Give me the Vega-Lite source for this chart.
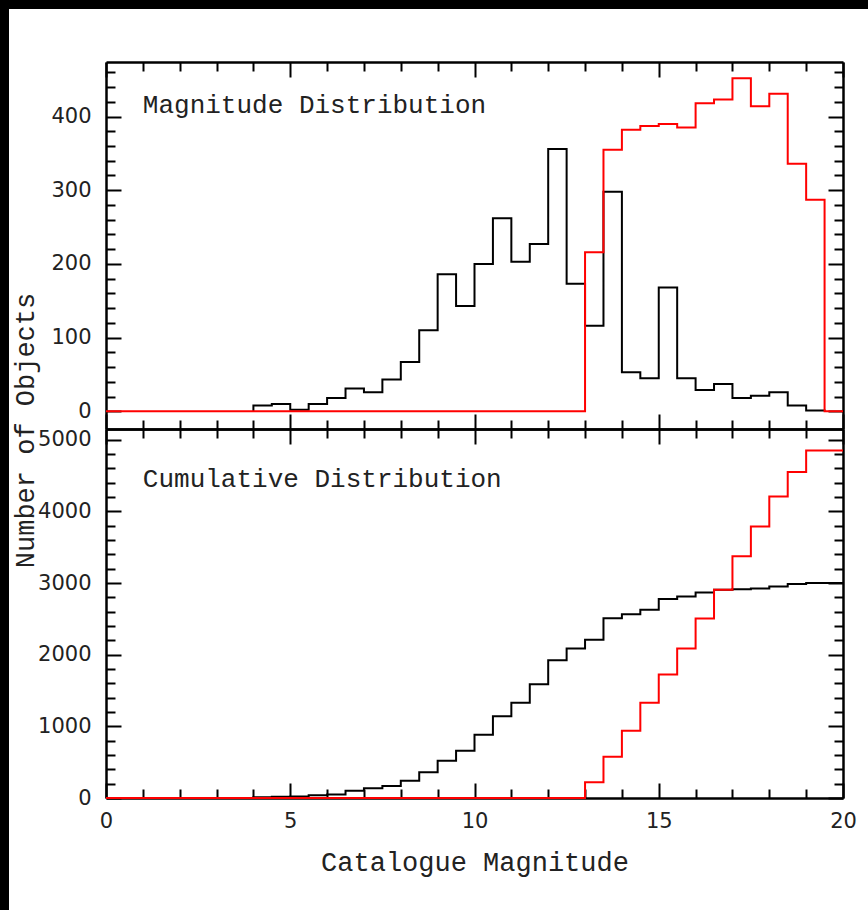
{
  "$schema": "https://vega.github.io/schema/vega-lite/v6.json",
  "width": 859,
  "height": 901,
  "autosize": {"type": "none"},
  "padding": {"left": 9, "top": 9, "right": 0, "bottom": 0},
  "background": "#000000",
  "config": {
    "view": {"fill": "#ffffff", "stroke": null},
    "axis": {
      "grid": false,
      "domainColor": "#000000",
      "domainWidth": 2.5,
      "tickColor": "#000000",
      "tickWidth": 2,
      "labelFont": "DejaVu Sans",
      "labelFontSize": 21,
      "labelColor": "#222222",
      "labelFlush": false,
      "labelOverlap": false,
      "titleFont": "Liberation Mono",
      "titleFontSize": 27,
      "titleFontWeight": "normal",
      "titleColor": "#222222"
    },
    "line": {"strokeWidth": 2, "interpolate": "step-after"}
  },
  "datasets": {
    "hist_black": [
      {"i": 0, "mag": 4.0, "n": 0}, {"i": 1, "mag": 4.0, "n": 8}, {"i": 2, "mag": 4.5, "n": 10},
      {"i": 3, "mag": 5.0, "n": 2}, {"i": 4, "mag": 5.5, "n": 10}, {"i": 5, "mag": 6.0, "n": 18},
      {"i": 6, "mag": 6.5, "n": 31}, {"i": 7, "mag": 7.0, "n": 26}, {"i": 8, "mag": 7.5, "n": 43},
      {"i": 9, "mag": 8.0, "n": 67}, {"i": 10, "mag": 8.5, "n": 110}, {"i": 11, "mag": 9.0, "n": 186},
      {"i": 12, "mag": 9.5, "n": 143}, {"i": 13, "mag": 10.0, "n": 200}, {"i": 14, "mag": 10.5, "n": 262},
      {"i": 15, "mag": 11.0, "n": 203}, {"i": 16, "mag": 11.5, "n": 227}, {"i": 17, "mag": 12.0, "n": 356},
      {"i": 18, "mag": 12.5, "n": 173}, {"i": 19, "mag": 13.0, "n": 116}, {"i": 20, "mag": 13.5, "n": 298},
      {"i": 21, "mag": 14.0, "n": 53}, {"i": 22, "mag": 14.5, "n": 45}, {"i": 23, "mag": 15.0, "n": 168},
      {"i": 24, "mag": 15.5, "n": 45}, {"i": 25, "mag": 16.0, "n": 29}, {"i": 26, "mag": 16.5, "n": 37},
      {"i": 27, "mag": 17.0, "n": 18}, {"i": 28, "mag": 17.5, "n": 21}, {"i": 29, "mag": 18.0, "n": 26},
      {"i": 30, "mag": 18.5, "n": 8}, {"i": 31, "mag": 19.0, "n": 1}, {"i": 32, "mag": 19.5, "n": 0}
    ],
    "hist_red": [
      {"i": 0, "mag": 0.0, "n": 0}, {"i": 1, "mag": 13.0, "n": 216}, {"i": 2, "mag": 13.5, "n": 355},
      {"i": 3, "mag": 14.0, "n": 382}, {"i": 4, "mag": 14.5, "n": 387}, {"i": 5, "mag": 15.0, "n": 390},
      {"i": 6, "mag": 15.5, "n": 385}, {"i": 7, "mag": 16.0, "n": 418}, {"i": 8, "mag": 16.5, "n": 423},
      {"i": 9, "mag": 17.0, "n": 452}, {"i": 10, "mag": 17.5, "n": 414}, {"i": 11, "mag": 18.0, "n": 431},
      {"i": 12, "mag": 18.5, "n": 336}, {"i": 13, "mag": 19.0, "n": 287}, {"i": 14, "mag": 19.5, "n": 0},
      {"i": 15, "mag": 20.0, "n": 0}
    ],
    "cum_black": [
      {"i": 0, "mag": 4.0, "n": 0}, {"i": 1, "mag": 4.0, "n": 10}, {"i": 2, "mag": 4.5, "n": 18},
      {"i": 3, "mag": 5.0, "n": 20}, {"i": 4, "mag": 5.5, "n": 40}, {"i": 5, "mag": 6.0, "n": 48},
      {"i": 6, "mag": 6.5, "n": 102}, {"i": 7, "mag": 7.0, "n": 135}, {"i": 8, "mag": 7.5, "n": 168},
      {"i": 9, "mag": 8.0, "n": 242}, {"i": 10, "mag": 8.5, "n": 359}, {"i": 11, "mag": 9.0, "n": 521},
      {"i": 12, "mag": 9.5, "n": 661}, {"i": 13, "mag": 10.0, "n": 884}, {"i": 14, "mag": 10.5, "n": 1141},
      {"i": 15, "mag": 11.0, "n": 1331}, {"i": 16, "mag": 11.5, "n": 1588}, {"i": 17, "mag": 12.0, "n": 1923},
      {"i": 18, "mag": 12.5, "n": 2085}, {"i": 19, "mag": 13.0, "n": 2207}, {"i": 20, "mag": 13.5, "n": 2510},
      {"i": 21, "mag": 14.0, "n": 2566}, {"i": 22, "mag": 14.5, "n": 2626}, {"i": 23, "mag": 15.0, "n": 2779},
      {"i": 24, "mag": 15.5, "n": 2811}, {"i": 25, "mag": 16.0, "n": 2867}, {"i": 26, "mag": 16.5, "n": 2905},
      {"i": 27, "mag": 17.0, "n": 2914}, {"i": 28, "mag": 17.5, "n": 2923}, {"i": 29, "mag": 18.0, "n": 2951},
      {"i": 30, "mag": 18.5, "n": 2985}, {"i": 31, "mag": 19.0, "n": 2999}, {"i": 32, "mag": 19.5, "n": 2999},
      {"i": 33, "mag": 20.0, "n": 2999}
    ],
    "cum_red": [
      {"i": 0, "mag": 0.0, "n": 0}, {"i": 1, "mag": 13.0, "n": 219}, {"i": 2, "mag": 13.5, "n": 577},
      {"i": 3, "mag": 14.0, "n": 940}, {"i": 4, "mag": 14.5, "n": 1331}, {"i": 5, "mag": 15.0, "n": 1722},
      {"i": 6, "mag": 15.5, "n": 2085}, {"i": 7, "mag": 16.0, "n": 2504}, {"i": 8, "mag": 16.5, "n": 2905},
      {"i": 9, "mag": 17.0, "n": 3375}, {"i": 10, "mag": 17.5, "n": 3790}, {"i": 11, "mag": 18.0, "n": 4208},
      {"i": 12, "mag": 18.5, "n": 4549}, {"i": 13, "mag": 19.0, "n": 4851}, {"i": 14, "mag": 19.5, "n": 4851},
      {"i": 15, "mag": 20.0, "n": 4851}
    ]
  },
  "layer": [
    {
      "layer": [
        {
          "data": {"name": "hist_black"},
          "mark": {"type": "line", "color": "#000000"},
          "encoding": {
            "x": {
              "field": "mag", "type": "quantitative",
              "scale": {"domain": [0, 20], "range": [97, 834], "nice": false, "zero": false},
              "axis": {
                "orient": "bottom", "offset": -481, "title": null, "labels": false,
                "values": [0,1,2,3,4,5,6,7,8,9,10,11,12,13,14,15,16,17,18,19,20],
                "tickSize": {"condition": {"test": "datum.value % 5 === 0", "value": -15}, "value": -9}
              }
            },
            "y": {
              "field": "n", "type": "quantitative",
              "scale": {"domain": [-24, 474], "range": [420, 53], "nice": false, "zero": false},
              "axis": {
                "orient": "left", "offset": -97, "title": null, "format": "d",
                "values": [0,20,40,60,80,100,120,140,160,180,200,220,240,260,280,300,320,340,360,380,400,420,440,460],
                "labelExpr": "datum.value % 100 === 0 ? datum.label : ''",
                "labelPadding": 30,
                "tickSize": {"condition": {"test": "datum.value % 100 === 0", "value": -15}, "value": -9}
              }
            },
            "order": {"field": "i"}
          }
        },
        {
          "data": {"name": "hist_red"},
          "mark": {"type": "line", "color": "#ff0000"},
          "encoding": {
            "x": {
              "field": "mag", "type": "quantitative",
              "scale": {"domain": [0, 20], "range": [97, 834], "nice": false, "zero": false},
              "axis": {
                "orient": "top", "offset": -53, "title": null, "labels": false,
                "values": [0,1,2,3,4,5,6,7,8,9,10,11,12,13,14,15,16,17,18,19,20],
                "tickSize": {"condition": {"test": "datum.value % 5 === 0", "value": -15}, "value": -9}
              }
            },
            "y": {
              "field": "n", "type": "quantitative",
              "scale": {"domain": [-24, 474], "range": [420, 53], "nice": false, "zero": false},
              "axis": {
                "orient": "right", "offset": -25, "title": null, "labels": false,
                "values": [0,20,40,60,80,100,120,140,160,180,200,220,240,260,280,300,320,340,360,380,400,420,440,460],
                "tickSize": {"condition": {"test": "datum.value % 100 === 0", "value": -15}, "value": -9}
              }
            },
            "order": {"field": "i"}
          }
        },
        {
          "data": {"values": [{"label": "Magnitude Distribution", "mag": 1.0, "n": 405}]},
          "mark": {"type": "text", "align": "left", "baseline": "alphabetic", "font": "Liberation Mono", "fontSize": 26, "color": "#222222"},
          "encoding": {
            "x": {"field": "mag", "type": "quantitative", "axis": null},
            "y": {"field": "n", "type": "quantitative", "axis": null},
            "text": {"field": "label"}
          }
        }
      ],
      "resolve": {"axis": {"x": "independent", "y": "independent"}}
    },
    {
      "layer": [
        {
          "data": {"name": "cum_black"},
          "mark": {"type": "line", "color": "#000000"},
          "encoding": {
            "x": {
              "field": "mag", "type": "quantitative",
              "scale": {"domain": [0, 20], "range": [97, 834], "nice": false, "zero": false},
              "axis": {
                "orient": "bottom", "offset": -112, "title": "Catalogue Magnitude",
                "titleY": 72, "titleBaseline": "alphabetic",
                "values": [0,1,2,3,4,5,6,7,8,9,10,11,12,13,14,15,16,17,18,19,20],
                "labelExpr": "datum.value % 5 === 0 ? datum.label : ''",
                "labelPadding": 27,
                "tickSize": {"condition": {"test": "datum.value % 5 === 0", "value": -15}, "value": -9}
              }
            },
            "y": {
              "field": "n", "type": "quantitative",
              "scale": {"domain": [0, 5150], "range": [789, 420], "nice": false, "zero": false},
              "axis": {
                "orient": "left", "offset": -97, "format": "d",
                "title": "Number of Objects",
                "titleX": -73, "titleY": 421, "titleAngle": 270, "titleBaseline": "alphabetic", "titleAlign": "center",
                "values": [0,200,400,600,800,1000,1200,1400,1600,1800,2000,2200,2400,2600,2800,3000,3200,3400,3600,3800,4000,4200,4400,4600,4800,5000],
                "labelExpr": "datum.value % 1000 === 0 ? datum.label : ''",
                "labelPadding": 30,
                "tickSize": {"condition": {"test": "datum.value % 1000 === 0", "value": -15}, "value": -9}
              }
            },
            "order": {"field": "i"}
          }
        },
        {
          "data": {"name": "cum_red"},
          "mark": {"type": "line", "color": "#ff0000"},
          "encoding": {
            "x": {
              "field": "mag", "type": "quantitative",
              "scale": {"domain": [0, 20], "range": [97, 834], "nice": false, "zero": false},
              "axis": {
                "orient": "top", "offset": -420, "title": null, "labels": false,
                "values": [0,1,2,3,4,5,6,7,8,9,10,11,12,13,14,15,16,17,18,19,20],
                "tickSize": {"condition": {"test": "datum.value % 5 === 0", "value": -15}, "value": -9}
              }
            },
            "y": {
              "field": "n", "type": "quantitative",
              "scale": {"domain": [0, 5150], "range": [789, 420], "nice": false, "zero": false},
              "axis": {
                "orient": "right", "offset": -25, "title": null, "labels": false,
                "values": [0,200,400,600,800,1000,1200,1400,1600,1800,2000,2200,2400,2600,2800,3000,3200,3400,3600,3800,4000,4200,4400,4600,4800,5000],
                "tickSize": {"condition": {"test": "datum.value % 1000 === 0", "value": -15}, "value": -9}
              }
            },
            "order": {"field": "i"}
          }
        },
        {
          "data": {"values": [{"label": "Cumulative Distribution", "mag": 1.0, "n": 4340}]},
          "mark": {"type": "text", "align": "left", "baseline": "alphabetic", "font": "Liberation Mono", "fontSize": 26, "color": "#222222"},
          "encoding": {
            "x": {"field": "mag", "type": "quantitative", "axis": null},
            "y": {"field": "n", "type": "quantitative", "axis": null},
            "text": {"field": "label"}
          }
        }
      ],
      "resolve": {"axis": {"x": "independent", "y": "independent"}}
    }
  ],
  "resolve": {"scale": {"y": "independent"}, "axis": {"x": "independent", "y": "independent"}}
}
